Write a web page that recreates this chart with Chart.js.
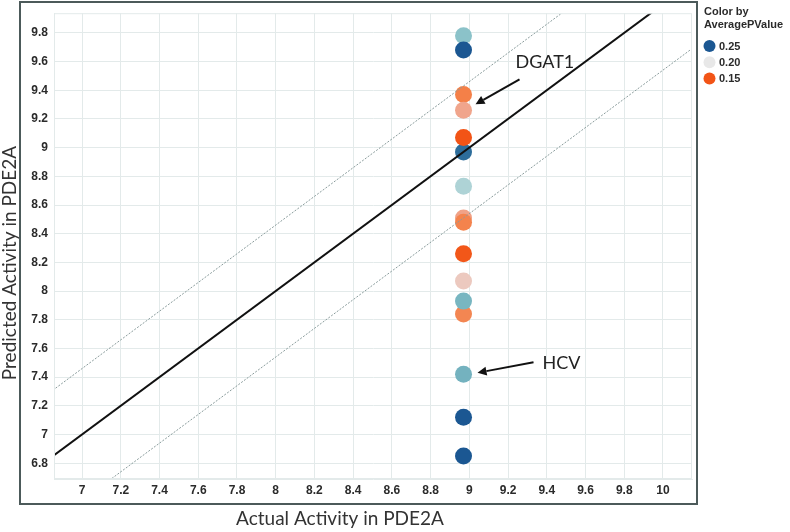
<!DOCTYPE html>
<html>
<head>
<meta charset="utf-8">
<script src="https://cdn.jsdelivr.net/npm/chart.js@4/dist/chart.umd.min.js"></script>
<style>
  html, body { margin: 0; padding: 0; background: #ffffff; }
  #wrap { width: 790px; height: 532px; }
</style>
</head>
<body>
<div id="wrap"><canvas id="c" width="790" height="532"></canvas></div>
<script>
// ---------------- DATA ----------------
const actualActivity = [8.97, 8.97, 8.97, 8.97, 8.97, 8.97, 8.97, 8.97, 8.97, 8.97, 8.97, 8.97, 8.97, 8.97, 8.97, 8.97];
const predictedActivity = [9.78, 9.68, 9.37, 9.26, 8.97, 9.07, 8.73, 8.51, 8.48, 8.26, 8.07, 7.84, 7.93, 7.42, 7.12, 6.85];
const averagePValue = [0.222, 0.25, 0.165, 0.178, 0.245, 0.15, 0.215, 0.177, 0.166, 0.151, 0.19, 0.167, 0.226, 0.227, 0.25, 0.25];
const compoundLabels = ["", "", "", "DGAT1", "", "", "", "", "", "", "", "", "", "HCV", "", ""];
const xTickValues = [7, 7.2, 7.4, 7.6, 7.8, 8, 8.2, 8.4, 8.6, 8.8, 9, 9.2, 9.4, 9.6, 9.8, 10];
const yTickValues = [6.8, 7, 7.2, 7.4, 7.6, 7.8, 8, 8.2, 8.4, 8.6, 8.8, 9, 9.2, 9.4, 9.6, 9.8];
const refLineX = [6.5, 10.5];
const refLineOffsets = [0, 0.46, -0.46];
const legendTitle = ["Color by", "AveragePValue"];
const legendValues = [0.25, 0.20, 0.15];
const xAxisTitle = "Actual Activity in PDE2A";
const yAxisTitle = "Predicted Activity in PDE2A";

// ---------------- STYLE ----------------
const colorStops = [
  [0.150, [242, 84, 22]],
  [0.165, [244, 128, 72]],
  [0.178, [240, 165, 140]],
  [0.190, [236, 201, 191]],
  [0.200, [232, 232, 232]],
  [0.215, [174, 211, 214]],
  [0.225, [124, 186, 195]],
  [0.245, [45, 109, 155]],
  [0.250, [27, 87, 146]]
];
function pColor(p) {
  if (p <= colorStops[0][0]) return 'rgb(' + colorStops[0][1].join(',') + ')';
  for (let i = 1; i < colorStops.length; i++) {
    const [p1, c1] = colorStops[i];
    const [p0, c0] = colorStops[i - 1];
    if (p <= p1) {
      const t = (p - p0) / (p1 - p0);
      const c = c0.map((v, k) => Math.round(v + (c1[k] - v) * t));
      return 'rgb(' + c.join(',') + ')';
    }
  }
  return 'rgb(' + colorStops[colorStops.length - 1][1].join(',') + ')';
}

const GRID = '#e3eaea';
const TEXT = '#2b2b2b';
const TITLE_FONT = 'Lato, "Open Sans", sans-serif';

const points = actualActivity.map((x, i) => ({ x: x, y: predictedActivity[i] }));
const refLines = refLineOffsets.map(o => refLineX.map(x => ({ x: x, y: x + o })));

const annotationStyle = {
  DGAT1: { tip: [12, -6], tail: [56, -31], text: [52, -48] },
  HCV:   { tip: [14, -1.5], tail: [70, -12], text: [79, -11.5] }
};

const decorPlugin = {
  id: 'decor',
  beforeDraw(chart) {
    const ctx = chart.ctx;
    ctx.save();
    ctx.fillStyle = '#ffffff';
    ctx.fillRect(0, 0, chart.width, chart.height);
    ctx.restore();
  },
  afterDraw(chart) {
    const ctx = chart.ctx;
    const a = chart.chartArea;
    ctx.save();
    // plot border (faint)
    ctx.strokeStyle = GRID;
    ctx.lineWidth = 1;
    ctx.strokeRect(a.left + 0.5, a.top + 0.5, a.right - a.left - 1, a.bottom - a.top - 1);
    // outer frame
    ctx.strokeStyle = '#4c5a5a';
    ctx.lineWidth = 2;
    ctx.strokeRect(20, 2, 677, 502);

    // axis titles
    ctx.fillStyle = '#333';
    ctx.font = '19px ' + TITLE_FONT;
    ctx.textAlign = 'center';
    ctx.textBaseline = 'middle';
    ctx.fillText(xAxisTitle, 340, 519);
    ctx.save();
    ctx.translate(10, 263);
    ctx.rotate(-Math.PI / 2);
    ctx.fillText(yAxisTitle, 0, 0);
    ctx.restore();

    // annotations
    const meta = chart.getDatasetMeta(3);
    compoundLabels.forEach((lab, i) => {
      if (!lab) return;
      const st = annotationStyle[lab];
      const el = meta.data[i];
      const px = el.x, py = el.y;
      const tx = px + st.tip[0], ty = py + st.tip[1];
      const sx = px + st.tail[0], sy = py + st.tail[1];
      ctx.strokeStyle = '#111';
      ctx.fillStyle = '#111';
      ctx.lineWidth = 2;
      const ang = Math.atan2(ty - sy, tx - sx);
      const hl = 9, hw = 4.5;
      const bx = tx - Math.cos(ang) * hl, by = ty - Math.sin(ang) * hl;
      ctx.beginPath();
      ctx.moveTo(sx, sy);
      ctx.lineTo(bx, by);
      ctx.stroke();
      ctx.beginPath();
      ctx.moveTo(tx, ty);
      ctx.lineTo(bx + Math.sin(ang) * hw, by - Math.cos(ang) * hw);
      ctx.lineTo(bx - Math.sin(ang) * hw, by + Math.cos(ang) * hw);
      ctx.closePath();
      ctx.fill();
      ctx.font = '18px ' + TITLE_FONT;
      ctx.fillStyle = '#222';
      ctx.textAlign = 'left';
      ctx.textBaseline = 'middle';
      ctx.fillText(lab, px + st.text[0], py + st.text[1]);
    });

    // legend
    ctx.fillStyle = TEXT;
    ctx.font = 'bold 11px "Liberation Sans", Arial, sans-serif';
    ctx.textAlign = 'left';
    ctx.textBaseline = 'middle';
    ctx.fillText(legendTitle[0], 704, 12);
    ctx.fillText(legendTitle[1], 704, 25);
    legendValues.forEach((v, i) => {
      const cy = 46 + i * 16.3;
      ctx.beginPath();
      ctx.arc(709.5, cy, 6, 0, Math.PI * 2);
      ctx.fillStyle = pColor(v);
      ctx.fill();
      ctx.fillStyle = TEXT;
      ctx.fillText(v.toFixed(2), 719, cy + 0.5);
    });
    ctx.restore();
  }
};

const tickFont = { family: '"Liberation Sans", Arial, sans-serif', size: 12, weight: 'bold' };

new Chart(document.getElementById('c'), {
  type: 'scatter',
  data: {
    datasets: [
      { label: 'y = x', type: 'line', data: refLines[0], borderColor: '#111', borderWidth: 2, pointRadius: 0, clip: 0, tension: 0 },
      { label: 'upper', type: 'line', data: refLines[1], borderColor: '#8a9c9c', borderWidth: 1, borderDash: [2, 1.5], pointRadius: 0, clip: 0, tension: 0 },
      { label: 'lower', type: 'line', data: refLines[2], borderColor: '#8a9c9c', borderWidth: 1, borderDash: [2, 1.5], pointRadius: 0, clip: 0, tension: 0 },
      { label: 'compounds', data: points, backgroundColor: averagePValue.map(pColor), borderWidth: 0, pointRadius: 8.5, pointHoverRadius: 8.5, clip: false }
    ]
  },
  options: {
    responsive: false,
    animation: false,
    events: [],
    layout: { padding: { left: 20, top: 5, right: 98, bottom: 25 } },
    plugins: { legend: { display: false }, tooltip: { enabled: false } },
    scales: {
      x: {
        type: 'linear', min: 6.855, max: 10.15,
        afterBuildTicks: s => { s.ticks = xTickValues.map(v => ({ value: v })); },
        afterFit: s => { s.height = 28; },
        grid: { color: GRID, drawTicks: false },
        border: { display: true, color: GRID },
        ticks: { font: tickFont, color: TEXT, padding: 4, maxRotation: 0, autoSkip: false, callback: v => String(+v.toFixed(1)) }
      },
      y: {
        type: 'linear', min: 6.69, max: 9.937,
        afterBuildTicks: s => { s.ticks = yTickValues.map(v => ({ value: v })); },
        afterFit: s => { s.width = 34; },
        grid: { color: GRID, drawTicks: false },
        border: { display: true, color: GRID },
        ticks: { font: tickFont, color: TEXT, padding: 6, autoSkip: false, callback: v => String(+v.toFixed(1)) }
      }
    }
  },
  plugins: [decorPlugin]
});
</script>
</body>
</html>
